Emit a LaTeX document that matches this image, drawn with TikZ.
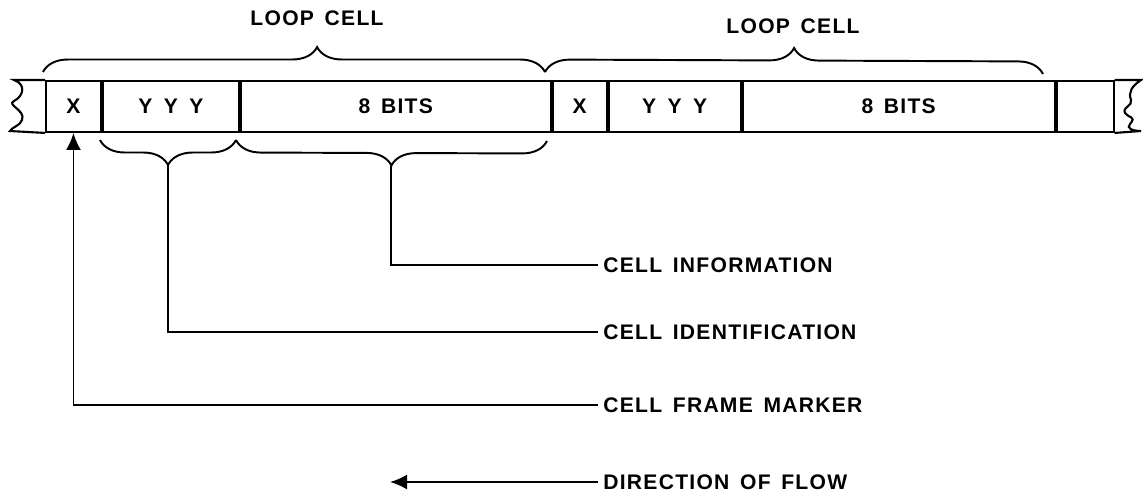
\documentclass[tikz,border=0pt]{standalone}
\usepackage{fontspec}
\setmainfont{Liberation Sans}[LetterSpace=6, WordSpace=1.5]
\usetikzlibrary{positioning,calc,arrows.meta,decorations.pathreplacing}
\newcommand*\pxu{0.02cm}
\newcommand*\yyy{Y\hspace{6.5pt}Y\hspace{6.5pt}Y}
\tikzstyle{cell}=[draw, line width=1.1pt, minimum height=51*\pxu, inner sep=0pt]
\tikzstyle{tape}=[line width=1.2pt]
\tikzstyle{brc}=[decorate, decoration={brace, amplitude=0.5cm}, line width=1.1pt]
\tikzstyle{lbl}=[anchor=west, inner ysep=0pt, inner xsep=5*\pxu]
\tikzstyle{conn}=[line width=1.1pt]
\tikzstyle{arr}=[conn, -{Latex[length=0.34cm, width=0.3cm]}]

\begin{document}
\begin{tikzpicture}[x=\pxu, y=-\pxu, every node/.style={font=\bfseries\fontsize{12}{14}\selectfont}]
  \useasboundingbox (0,0) rectangle (1143,495);
  % the tape
  \node (xa) [cell, anchor=north west, minimum width=55*\pxu] at (45,80) {X};
  \node (ya) [cell, right=0pt of xa, minimum width=136*\pxu] {\yyy};
  \node (ba) [cell, right=0pt of ya, minimum width=310*\pxu] {8 BITS};
  \node (xb) [cell, right=0pt of ba, minimum width=54*\pxu] {X};
  \node (yb) [cell, right=0pt of xb, minimum width=132*\pxu] {\yyy};
  \node (bb) [cell, right=0pt of yb, minimum width=312*\pxu] {8 BITS};
  \node (ea) [cell, right=0pt of bb, minimum width=57*\pxu] {};
  \draw[tape] (xa.north west) -- (14,80) .. controls (26,84) and (24,96) .. (14,101)
    .. controls (6,105) and (26,110) .. (22,120) .. controls (20,126) and (12,127) .. (10,131)
    -- (xa.south west);
  \draw[tape] (ea.north east) -- (1141,80) .. controls (1132,86) and (1128,92) .. (1131,100)
    .. controls (1133,106) and (1122,107) .. (1125,113) .. controls (1128,118) and (1137,116) .. (1130,124)
    .. controls (1126,128) and (1132,131) .. (1141,131) -- (ea.south east);
  % braces
  \draw[brc, decoration={aspect=0.546}] (43,72) -- (545,72);
  \draw[brc] (545,72) -- (1043,74);
  \draw[brc] (236,140) -- (100,140);
  \draw[brc] (547,141) -- (236,140);
  \node (loopa) at (317,18) {LOOP CELL};
  \node (loopb) at (793,26) {LOOP CELL};
  \coordinate (tipId) at (168,165);
  \coordinate (tipInfo) at (391,166);
  % labels
  \node (info) [lbl] at (598,265) {CELL INFORMATION};
  \node (ident) [lbl] at (598,332) {CELL IDENTIFICATION};
  \node (frame) [lbl] at (598,405) {CELL FRAME MARKER};
  \node (flow) [lbl] at (598,482) {DIRECTION OF FLOW};
  \coordinate (flowtip) at (390,482);
  \draw[conn] (tipInfo) |- (info.west);
  \draw[conn] (tipId) |- (ident.west);
  \draw[arr] (frame.west) -| (xa.south);
  \draw[arr] (flow.west) -- (flowtip);
\end{tikzpicture}
\end{document}
